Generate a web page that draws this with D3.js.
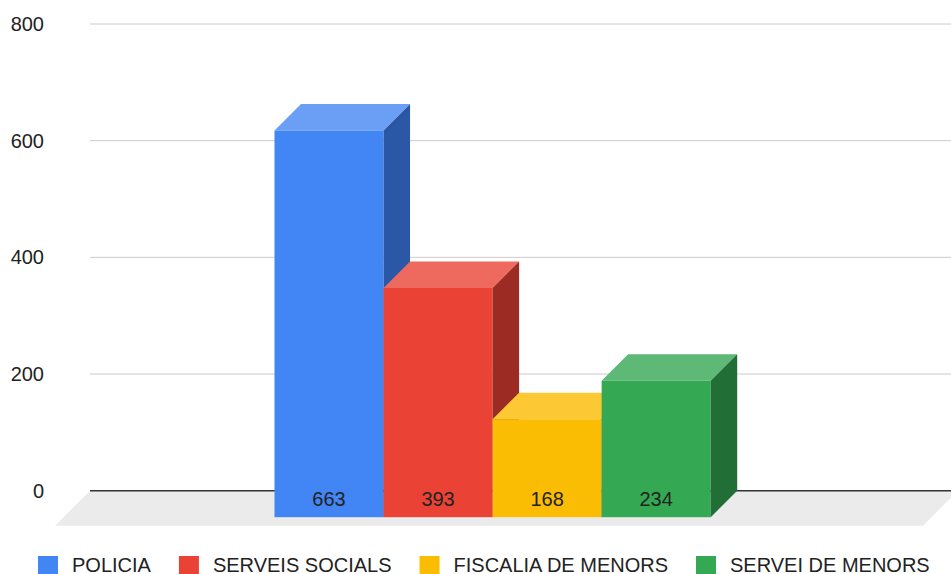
<!DOCTYPE html>
<html>
<head>
<meta charset="utf-8">
<script src="https://cdn.jsdelivr.net/npm/d3@7"></script>
<style>
    body { margin: 0; background: #fff; }
    text { font-family: "Liberation Sans", Arial, sans-serif; }
</style>
</head>
<body>
<div id="chart"></div>
<script>

// data
const categories = ["POLICIA", "SERVEIS SOCIALS", "FISCALIA DE MENORS", "SERVEI DE MENORS"];
const values = [663, 393, 168, 234];
const yTicks = [0, 200, 400, 600, 800];

const frontColors = ["#4285f4", "#ea4335", "#fbbc04", "#34a853"];
const topColors = ["#6b9ff6", "#ee6a5e", "#fcc934", "#5db975"];
const sideColors = ["#2b58a6", "#9c2c23", "#a87d03", "#226e37"];

class Bar3DVis {

    constructor(parentElement) {
        this.parentElement = parentElement;
        this.data = categories.map((c, i) => ({name: c, value: values[i], i: i}));
        this.initVis();
    }

    initVis() {
        let vis = this;

        vis.W = 951;
        vis.H = 574;
        vis.margin = {top: 24, left: 90};
        vis.plotRight = 958;
        vis.zeroY = 490.7;
        vis.depth = 26.5;      // bar depth offset
        vis.floorDepth = 35;

        vis.svg = d3.select("#" + vis.parentElement).append("svg")
            .attr("width", vis.W)
            .attr("height", vis.H);

        vis.y = d3.scaleLinear()
            .domain([0, 800])
            .range([vis.zeroY, vis.margin.top]);

        vis.x = d3.scaleBand()
            .domain(categories)
            .range([274.5, 710.7])
            .padding(0);

        vis.updateVis();
    }

    updateVis() {
        let vis = this;
        let d = vis.depth;

        // floor
        let f = vis.floorDepth;
        vis.svg.append("polygon")
            .attr("points", [
                [vis.margin.left, vis.zeroY],
                [vis.plotRight, vis.zeroY],
                [vis.plotRight - f, vis.zeroY + f],
                [vis.margin.left - f, vis.zeroY + f]
            ].map(p => p.join(",")).join(" "))
            .attr("fill", "#ebebeb");

        // gridlines + y labels
        vis.svg.selectAll(".grid")
            .data(yTicks)
            .enter().append("line")
            .attr("class", "grid")
            .attr("x1", vis.margin.left)
            .attr("x2", vis.W)
            .attr("y1", t => vis.y(t))
            .attr("y2", t => vis.y(t))
            .attr("stroke", t => t === 0 ? "#333" : "#ccc")
            .attr("stroke-width", t => t === 0 ? 1.5 : 1);

        vis.svg.selectAll(".ylab")
            .data(yTicks)
            .enter().append("text")
            .attr("class", "ylab")
            .attr("x", 44)
            .attr("y", t => vis.y(t))
            .attr("dy", "0.35em")
            .attr("text-anchor", "end")
            .attr("font-size", 20)
            .attr("fill", "#222")
            .text(t => t);

        // bars, left to right so the next one covers the previous side
        let bars = vis.svg.selectAll(".bar")
            .data(vis.data)
            .enter().append("g")
            .attr("class", "bar");

        let bw = vis.x.bandwidth();
        let baseF = vis.zeroY + d;

        bars.append("rect")
            .attr("x", e => vis.x(e.name))
            .attr("y", e => vis.y(e.value) + d)
            .attr("width", bw)
            .attr("height", e => vis.zeroY - vis.y(e.value))
            .attr("fill", e => frontColors[e.i]);

        bars.append("polygon")
            .attr("points", e => {
                let x0 = vis.x(e.name), yf = vis.y(e.value) + d;
                return [[x0, yf], [x0 + d, yf - d], [x0 + bw + d, yf - d], [x0 + bw, yf]]
                    .map(p => p.join(",")).join(" ");
            })
            .attr("fill", e => topColors[e.i]);

        bars.append("polygon")
            .attr("points", e => {
                let x1 = vis.x(e.name) + bw, yf = vis.y(e.value) + d;
                return [[x1, yf], [x1 + d, yf - d], [x1 + d, baseF - d], [x1, baseF]]
                    .map(p => p.join(",")).join(" ");
            })
            .attr("fill", e => sideColors[e.i]);

        // value labels
        vis.svg.selectAll(".val")
            .data(vis.data)
            .enter().append("text")
            .attr("class", "val")
            .attr("x", e => vis.x(e.name) + bw / 2)
            .attr("y", 505.5)
            .attr("text-anchor", "middle")
            .attr("font-size", 20)
            .attr("fill", "#222")
            .text(e => e.value);

        // legend
        let lx = 38;
        vis.data.forEach(e => {
            let g = vis.svg.append("g")
                .attr("transform", `translate(${lx}, 556)`);
            g.append("rect")
                .attr("width", 20)
                .attr("height", 20)
                .attr("fill", frontColors[e.i]);
            let t = g.append("text")
                .attr("x", 34)
                .attr("y", 15.5)
                .attr("font-size", 20)
                .attr("fill", "#222")
                .text(e.name);
            lx += 34 + t.node().getComputedTextLength() + 28;
        });
    }
}

new Bar3DVis("chart");

</script>
</body>
</html>
